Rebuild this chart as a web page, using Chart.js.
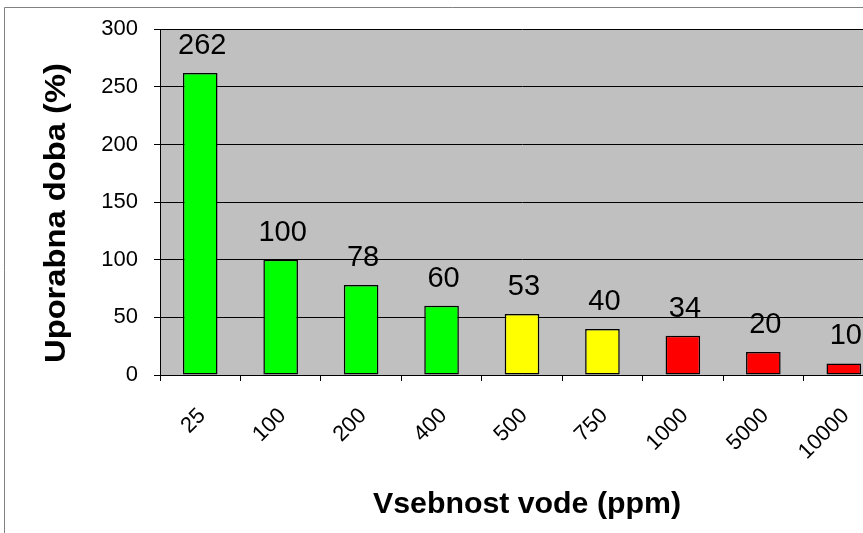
<!DOCTYPE html>
<html>
<head>
<meta charset="utf-8">
<title>Uporabna doba</title>
<script src="https://cdn.jsdelivr.net/npm/chart.js@4/dist/chart.umd.min.js"></script>
<style>
  html, body { margin: 0; padding: 0; background: #fff; overflow: hidden; }
  #wrap { width: 900px; height: 533px; }
</style>
</head>
<body>
<div id="wrap"><canvas id="c" width="900" height="533"></canvas></div>
<script>
// Water content (ppm) and the resulting service life (%)
const categories = ['25', '100', '200', '400', '500', '750', '1000', '5000', '10000'];
const serviceLife = [262, 100, 78, 60, 53, 40, 34, 20, 10];
const yTicks = [0, 50, 100, 150, 200, 250, 300];
const xTitle = 'Vsebnost vode (ppm)';
const yTitle = 'Uporabna doba (%)';

// Bar fills: green = good, yellow = caution, red = poor
const barColors = ['#00ff00', '#00ff00', '#00ff00', '#00ff00',
                   '#ffff00', '#ffff00', '#ff0000', '#ff0000', '#ff0000'];

const FONT = '"Liberation Sans", Arial, sans-serif';

// Gray plot background and the outer frame
const backdrop = {
  id: 'backdrop',
  beforeDraw(chart) {
    const { ctx, chartArea: a } = chart;
    ctx.save();
    ctx.fillStyle = '#c0c0c0';
    ctx.fillRect(a.left, a.top, a.right - a.left, a.bottom - a.top);
    ctx.strokeStyle = '#808080';
    ctx.lineWidth = 1;
    ctx.beginPath();
    ctx.moveTo(4.5, chart.height);
    ctx.lineTo(4.5, 7.5);
    ctx.lineTo(chart.width, 7.5);
    ctx.stroke();
    ctx.restore();
  }
};

// Value labels above each bar
const valueLabels = {
  id: 'valueLabels',
  afterDatasetsDraw(chart) {
    const { ctx } = chart;
    const meta = chart.getDatasetMeta(0);
    ctx.save();
    ctx.font = '29px ' + FONT;
    ctx.fillStyle = '#000';
    ctx.textAlign = 'center';
    ctx.textBaseline = 'alphabetic';
    meta.data.forEach((bar, i) => {
      ctx.fillText(String(serviceLife[i]), bar.x + 2, bar.y - 19);
    });
    ctx.restore();
  }
};

// Axis titles, slightly widened bold text
const axisTitles = {
  id: 'axisTitles',
  afterDraw(chart) {
    const { ctx } = chart;
    ctx.save();
    ctx.font = 'bold 30px ' + FONT;
    ctx.fillStyle = '#000';
    ctx.textAlign = 'center';
    ctx.textBaseline = 'middle';

    let w = ctx.measureText(xTitle).width;
    ctx.save();
    ctx.translate(527, 505);
    ctx.scale(308 / w, 1);
    ctx.fillText(xTitle, 0, 0);
    ctx.restore();

    w = ctx.measureText(yTitle).width;
    ctx.save();
    ctx.translate(57, 213);
    ctx.rotate(-Math.PI / 2);
    ctx.scale(300 / w, 1);
    ctx.fillText(yTitle, 0, 0);
    ctx.restore();

    ctx.restore();
  }
};

new Chart(document.getElementById('c'), {
  type: 'bar',
  data: {
    labels: categories,
    datasets: [{
      data: serviceLife,
      backgroundColor: barColors,
      borderColor: '#000',
      borderWidth: 1.5,
      borderSkipped: false,
      categoryPercentage: 1,
      barPercentage: 0.43
    }]
  },
  options: {
    responsive: false,
    animation: false,
    layout: { padding: { top: 28, right: 16, left: 0, bottom: 0 } },
    plugins: { legend: { display: false }, tooltip: { enabled: false } },
    scales: {
      x: {
        grid: {
          display: true, drawOnChartArea: false, offset: true,
          color: '#000', tickLength: 6, tickColor: '#000'
        },
        border: { display: true, color: '#000', width: 1 },
        ticks: {
          color: '#000', font: { family: FONT, size: 22 },
          minRotation: 45, maxRotation: 45, padding: 22, labelOffset: 2,
          autoSkip: false
        },
        afterFit(scale) { scale.height = 158; }
      },
      y: {
        min: 0, max: 300,
        afterBuildTicks(scale) { scale.ticks = yTicks.map(v => ({ value: v })); },
        grid: { color: '#000', lineWidth: 1, tickLength: 6, tickColor: '#000' },
        border: { display: true, color: '#000', width: 1 },
        ticks: { color: '#000', font: { family: FONT, size: 22 }, padding: 16 },
        afterFit(scale) { scale.width = 160; }
      }
    }
  },
  plugins: [backdrop, valueLabels, axisTitles]
});
</script>
</body>
</html>
